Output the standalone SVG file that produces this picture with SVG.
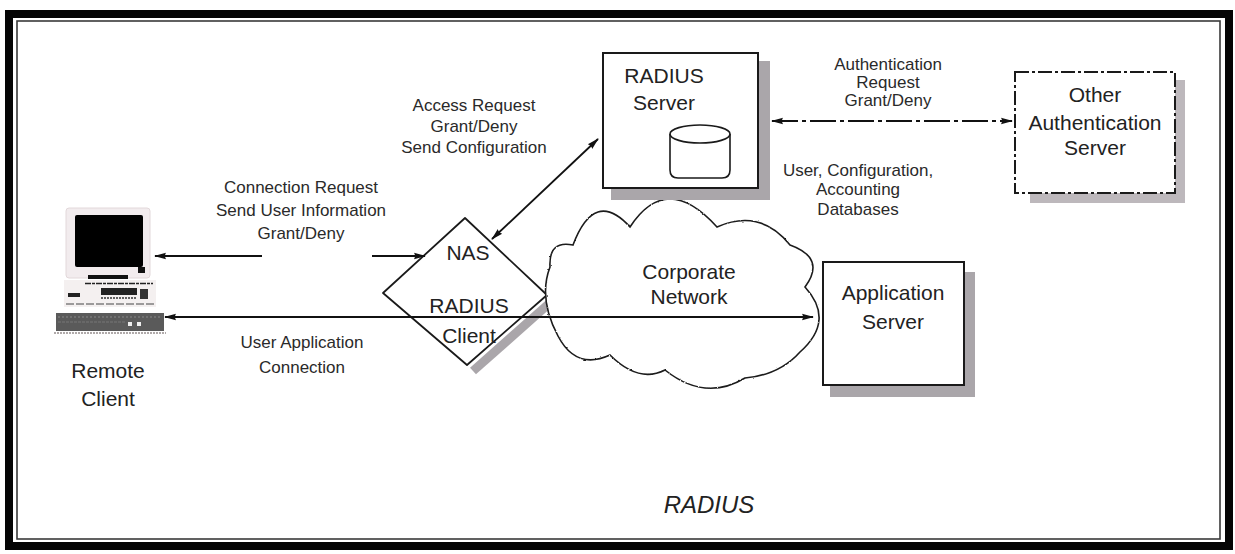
<svg xmlns="http://www.w3.org/2000/svg" width="1235" height="554" viewBox="0 0 1235 554">
  <style>
    .lbl { font-family: "Liberation Sans", Arial, sans-serif; font-size: 17px; fill: #2a2a2a; text-anchor: middle; }
    .node { font-family: "Liberation Sans", Arial, sans-serif; font-size: 21px; fill: #222; text-anchor: middle; }
    .box { fill: #fff; stroke: #1a1a1a; stroke-width: 2; }
    .shadow { fill: #aaa6aa; }
    .conn { stroke: #111; stroke-width: 1.8; fill: none; }
  </style>
  <defs>
    <marker id="ah" viewBox="0 0 12 8" refX="11" refY="4" markerWidth="12" markerHeight="8" markerUnits="userSpaceOnUse" orient="auto-start-reverse">
      <path d="M0,0.8 L12,4 L0,7.2 Q2,4 0,0.8 z" fill="#111"/>
    </marker>
    <filter id="wiggle" x="-5%" y="-5%" width="110%" height="110%">
      <feTurbulence type="fractalNoise" baseFrequency="0.45" numOctaves="1" seed="3" result="n"/>
      <feDisplacementMap in="SourceGraphic" in2="n" scale="2.2" xChannelSelector="R" yChannelSelector="G"/>
    </filter>
  </defs>

  <rect width="1235" height="554" fill="#fff"/>

  <!-- page frame -->
  <g id="frame">
    <rect x="9" y="14" width="1220" height="532" fill="none" stroke="#050505" stroke-width="8"/>
    <rect x="17" y="21" width="1203" height="518" fill="none" stroke="#3a3a3a" stroke-width="1.6"/>
  </g>

  <!-- remote client workstation -->
  <g id="remote-client">
    <rect x="66" y="208" width="84" height="70" rx="3" fill="#f2ecee" stroke="#e2d8da"/>
    <rect x="75" y="215" width="68" height="52" rx="2" fill="#000"/>
    <rect x="138" y="267" width="7" height="6" fill="#111"/>
    <rect x="88" y="275" width="40" height="4" fill="#111"/>
    <rect x="64" y="280" width="92" height="27" fill="#f4f0f0"/>
    <line x1="85" y1="283.5" x2="153" y2="283.5" stroke="#222" stroke-width="1.5" stroke-dasharray="6 1 3 1"/>
    <rect x="101" y="288" width="36" height="7" fill="#222"/>
    <line x1="101" y1="298" x2="137" y2="298" stroke="#333" stroke-width="1.5" stroke-dasharray="2 1"/>
    <rect x="68" y="293" width="12" height="4" fill="#222"/>
    <rect x="140" y="289" width="8" height="10" fill="#333"/>
    <line x1="66" y1="304" x2="154" y2="304" stroke="#444" stroke-width="1.2" stroke-dasharray="8 2"/>
    <rect x="56" y="313" width="108" height="18" fill="#5a5a5a"/>
    <line x1="58" y1="317" x2="160" y2="317" stroke="#888" stroke-width="1" stroke-dasharray="2 2"/>
    <line x1="58" y1="322" x2="125" y2="322" stroke="#777" stroke-width="1" stroke-dasharray="3 1"/>
    <rect x="128" y="322" width="4" height="4" fill="#eee"/>
    <rect x="137" y="322" width="4" height="4" fill="#eee"/>
    <line x1="54" y1="333" x2="166" y2="333" stroke="#b0aaaa" stroke-width="2" stroke-dasharray="2 1"/>
    <text class="node" x="108" y="378" font-size="22">Remote</text>
    <text class="node" x="108" y="406" font-size="22">Client</text>
  </g>

  <!-- NAS / RADIUS client -->
  <g id="nas">
    <line x1="552" y1="301" x2="473" y2="371" stroke="#aaa6aa" stroke-width="9"/>
    <path d="M465,218 L547,295 L467,365 L383,293 Z" fill="#fff" stroke="#1a1a1a" stroke-width="1.8" stroke-linejoin="round"/>
    <text class="node" x="468" y="260" font-size="23">NAS</text>
    <text class="node" x="469" y="313">RADIUS</text>
    <text class="node" x="469" y="343">Client</text>
  </g>

  <!-- corporate network cloud -->
  <g id="cloud">
    <path filter="url(#wiggle)" d="M550,267 Q548.5,240 573,245 Q594.5,188 630,227 Q666.5,171 717,227 Q760.5,208 790,245 Q826.5,258 805,287 Q835.5,320.5 800,352 Q779.5,375 745,378 Q705,402 665,370 Q638.5,383.5 610,355 Q576,370.5 558,336 Q538,298.5 550,267 Z" fill="#fff" stroke="#1a1a1a" stroke-width="1.6"/>
    <text class="node" x="689" y="279">Corporate</text>
    <text class="node" x="689" y="304">Network</text>
  </g>

  <!-- RADIUS server -->
  <g id="radius-server">
    <rect class="shadow" x="611" y="61" width="159" height="139"/>
    <rect class="box" x="603" y="53" width="155" height="135"/>
    <text class="node" x="664" y="83">RADIUS</text>
    <text class="node" x="664" y="110">Server</text>
    <path d="M670,134 L670,170 Q670,178 678,178 L722,178 Q730,178 730,170 L730,134" fill="#fff" stroke="#1a1a1a" stroke-width="1.6"/>
    <ellipse cx="700" cy="134" rx="30" ry="9" fill="#fff" stroke="#1a1a1a" stroke-width="1.6"/>
  </g>

  <!-- other authentication server -->
  <g id="other-auth">
    <rect x="1030" y="80" width="155" height="123" fill="#bdb8bc"/>
    <rect x="1015" y="72" width="160" height="121" fill="#fff" stroke="#1a1a1a" stroke-width="2" stroke-dasharray="14 3 3 3"/>
    <text class="node" x="1095" y="102" font-size="22">Other</text>
    <text class="node" x="1095" y="130" font-size="22">Authentication</text>
    <text class="node" x="1095" y="155" font-size="22">Server</text>
  </g>

  <!-- application server -->
  <g id="app-server">
    <rect class="shadow" x="830" y="272" width="145" height="125"/>
    <rect class="box" x="823" y="262" width="141" height="123"/>
    <text class="node" x="893" y="300" font-size="20">Application</text>
    <text class="node" x="893" y="329" font-size="20">Server</text>
  </g>

  <!-- connectors -->
  <g id="connectors">
    <line class="conn" x1="262" y1="256" x2="155" y2="256" marker-end="url(#ah)"/>
    <line class="conn" x1="372" y1="256" x2="425" y2="256" marker-end="url(#ah)"/>
    <line class="conn" x1="165" y1="317" x2="813" y2="317" marker-start="url(#ah)" marker-end="url(#ah)"/>
    <line class="conn" x1="492" y1="239" x2="598" y2="139" marker-start="url(#ah)" marker-end="url(#ah)"/>
    <line class="conn" x1="772" y1="121" x2="1012" y2="121" stroke-dasharray="26 4 4 4" marker-start="url(#ah)" marker-end="url(#ah)"/>
  </g>

  <!-- connector labels -->
  <g id="labels">
    <text class="lbl" x="474" y="111">Access Request</text>
    <text class="lbl" x="474" y="132">Grant/Deny</text>
    <text class="lbl" x="474" y="153">Send Configuration</text>
    <text class="lbl" x="301" y="193">Connection Request</text>
    <text class="lbl" x="301" y="216">Send User Information</text>
    <text class="lbl" x="301" y="239">Grant/Deny</text>
    <text class="lbl" x="302" y="348">User Application</text>
    <text class="lbl" x="302" y="373">Connection</text>
    <text class="lbl" x="888" y="70">Authentication</text>
    <text class="lbl" x="888" y="88">Request</text>
    <text class="lbl" x="888" y="106">Grant/Deny</text>
    <text class="lbl" x="858" y="176">User, Configuration,</text>
    <text class="lbl" x="858" y="195">Accounting</text>
    <text class="lbl" x="858" y="215">Databases</text>
  </g>

  <text x="709" y="513" font-family="Liberation Sans, Arial, sans-serif" font-size="24" font-style="italic" fill="#222" text-anchor="middle">RADIUS</text>
</svg>
